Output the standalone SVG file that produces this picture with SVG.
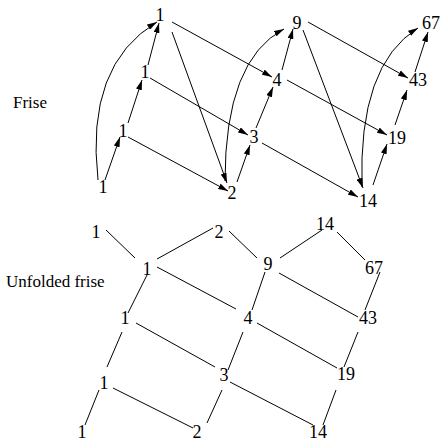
<svg xmlns="http://www.w3.org/2000/svg" width="440" height="443" viewBox="0 0 440 443">
<style>
text{font-family:"Liberation Serif","DejaVu Serif",serif;fill:#000}
.n{font-size:18px;text-anchor:middle}
.lbl{font-size:17px}
.e{stroke:#000;stroke-width:1;fill:none}
.a{marker-end:url(#ah)}
</style>
<defs>
<marker id="ah" viewBox="0 0 10 6" refX="10" refY="3" markerWidth="10" markerHeight="6" markerUnits="userSpaceOnUse" orient="auto">
<path d="M0,0 L10,3 L0,6 z" fill="#000"/>
</marker>
</defs>
<text class="lbl" x="13" y="108">Frise</text>
<text class="lbl" x="6" y="287">Unfolded frise</text>
<g id="connectors">
<line class="e a" x1="105" y1="180" x2="120" y2="137"/>
<line class="e a" x1="128" y1="123" x2="142" y2="80"/>
<line class="e a" x1="148" y1="65" x2="159" y2="23"/>
<path class="e a" d="M98,180 Q85,65 157,22"/>
<line class="e a" x1="128" y1="137" x2="228" y2="191"/>
<line class="e a" x1="150" y1="78" x2="248" y2="135"/>
<line class="e a" x1="172" y1="32" x2="227" y2="183"/>
<line class="e a" x1="172" y1="22" x2="272" y2="77"/>
<line class="e a" x1="237" y1="182" x2="250" y2="145"/>
<line class="e a" x1="256" y1="128" x2="273" y2="87"/>
<line class="e a" x1="282" y1="70" x2="293" y2="29"/>
<path class="e a" d="M225,181 Q225,60 284,29"/>
<line class="e a" x1="308" y1="22" x2="408" y2="78"/>
<line class="e a" x1="303" y1="30" x2="363" y2="188"/>
<line class="e a" x1="287" y1="80" x2="387" y2="135"/>
<line class="e a" x1="262" y1="143" x2="358" y2="197"/>
<line class="e a" x1="373" y1="185" x2="387" y2="144"/>
<line class="e a" x1="395" y1="125" x2="407" y2="90"/>
<line class="e a" x1="415" y1="72" x2="428" y2="32"/>
<path class="e a" d="M362,187 Q358,65 418,28"/>
<line class="e" x1="106" y1="230" x2="135" y2="258"/>
<line class="e" x1="157" y1="259" x2="213" y2="228"/>
<line class="e" x1="229" y1="231" x2="257" y2="258"/>
<line class="e" x1="280" y1="258" x2="322" y2="230"/>
<line class="e" x1="337" y1="232" x2="365" y2="260"/>
<line class="e" x1="157" y1="267" x2="236" y2="309"/>
<line class="e" x1="265" y1="272" x2="252" y2="310"/>
<line class="e" x1="279" y1="273" x2="358" y2="317"/>
<line class="e" x1="380" y1="272" x2="365" y2="310"/>
<line class="e" x1="147" y1="275" x2="128" y2="313"/>
<line class="e" x1="136" y1="323" x2="215" y2="367"/>
<line class="e" x1="243" y1="332" x2="228" y2="370"/>
<line class="e" x1="257" y1="323" x2="337" y2="368"/>
<line class="e" x1="358" y1="332" x2="344" y2="367"/>
<line class="e" x1="122" y1="332" x2="107" y2="367"/>
<line class="e" x1="113" y1="388" x2="193" y2="428"/>
<line class="e" x1="222" y1="390" x2="207" y2="423"/>
<line class="e" x1="230" y1="382" x2="313" y2="425"/>
<line class="e" x1="336" y1="390" x2="323" y2="425"/>
<line class="e" x1="99" y1="390" x2="85" y2="425"/>
</g>
<g id="top-a1"><text class="n" x="103" y="193">1</text></g>
<g id="top-a2"><text class="n" x="123" y="137">1</text></g>
<g id="top-a3"><text class="n" x="145" y="78">1</text></g>
<g id="top-a4"><text class="n" x="160" y="21">1</text></g>
<g id="top-b"><text class="n" x="232" y="199">2</text></g>
<g id="top-c"><text class="n" x="254" y="143">3</text></g>
<g id="top-d"><text class="n" x="277" y="86">4</text></g>
<g id="top-e"><text class="n" x="297" y="29">9</text></g>
<g id="top-f"><text class="n" x="368" y="207">14</text></g>
<g id="top-g"><text class="n" x="397" y="144">19</text></g>
<g id="top-h"><text class="n" x="418" y="86">43</text></g>
<g id="top-i"><text class="n" x="431" y="29">67</text></g>
<g id="bot-1a"><text class="n" x="96" y="238">1</text></g>
<g id="bot-1b"><text class="n" x="147" y="275">1</text></g>
<g id="bot-2a"><text class="n" x="219" y="238">2</text></g>
<g id="bot-14a"><text class="n" x="325" y="230">14</text></g>
<g id="bot-9"><text class="n" x="268" y="270">9</text></g>
<g id="bot-67"><text class="n" x="374" y="274">67</text></g>
<g id="bot-1c"><text class="n" x="125" y="324">1</text></g>
<g id="bot-4"><text class="n" x="248" y="324">4</text></g>
<g id="bot-43"><text class="n" x="368" y="324">43</text></g>
<g id="bot-1d"><text class="n" x="104" y="389">1</text></g>
<g id="bot-3"><text class="n" x="224" y="381">3</text></g>
<g id="bot-19"><text class="n" x="346" y="380">19</text></g>
<g id="bot-1e"><text class="n" x="82" y="438">1</text></g>
<g id="bot-2b"><text class="n" x="197" y="438">2</text></g>
<g id="bot-14b"><text class="n" x="318" y="438">14</text></g>
</svg>
